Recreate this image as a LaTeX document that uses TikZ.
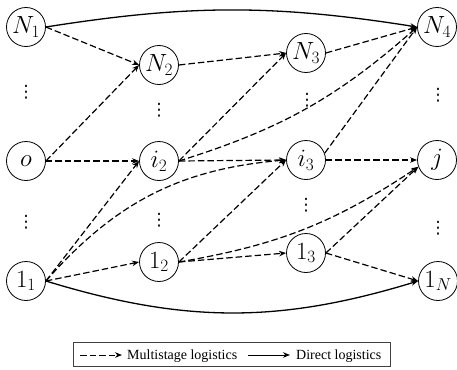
\documentclass[tikz,border=0pt]{standalone}
\usepackage{fontspec}
\newfontfamily\legfont{Liberation Serif}
\newfontfamily\dotfont{DejaVu Sans}
\usetikzlibrary{arrows.meta}
\tikzset{
  nd/.style={circle, draw, line width=0.8pt, minimum size=39pt, inner sep=0pt, font=\fontsize{24.5}{26}\selectfont},
  ml/.style={line width=1.2pt, dash pattern=on 6.5pt off 3pt, -{Stealth[length=7pt,width=5.5pt]}},
  dl/.style={line width=1.3pt, -{Stealth[length=7pt,width=5.5pt]}},
  dt/.style={font=\dotfont\fontsize{17}{19}\selectfont, inner sep=0pt},
  lg/.style={font=\legfont\fontsize{14}{16}\selectfont, inner sep=0pt, anchor=base west}
}
\begin{document}
\begin{tikzpicture}[x=1pt,y=-1pt]
\useasboundingbox (0,0) rectangle (457,369);
% nodes
\node[nd] (N1) at (26,27) {$N_1$};
\node[nd] (o)  at (26,161) {$o$};
\node[nd] (a1) at (26,281) {$1_1$};
\node[nd] (N2) at (159,65) {$N_2$};
\node[nd] (i2) at (159,161) {$i_2$};
\node[nd] (a2) at (159,262) {$1_2$};
\node[nd] (N3) at (306,53) {$N_3$};
\node[nd] (i3) at (306,160) {$i_3$};
\node[nd] (a3) at (306,253) {$1_3$};
\node[nd] (N4) at (437,27) {$N_4$};
\node[nd] (j)  at (437,160) {$j$};
\node[nd] (aN) at (438,281) {$1_N$};
% dots
\node[dt] (d1) at (26,92) {⋮};
\node[dt] (d2) at (26,222) {⋮};
\node[dt] (d3) at (159,110) {⋮};
\node[dt] (d4) at (159,220) {⋮};
\node[dt] (d5) at (307,100) {⋮};
\node[dt] (d6) at (306,205) {⋮};
\node[dt] (d7) at (438,95) {⋮};
\node[dt] (d8) at (438,228) {⋮};
% direct
\draw[dl] (N1.east) to[bend left=9] (N4.west);
\draw[dl] (a1.east) to[bend right=17] (aN.west);
% multistage
\draw[ml] (N1.east) -- (N2.west);
\draw[ml] (o.east) -- (N2.west);
\draw[ml] (o.east) -- (i2.west);
\draw[ml] (a1.east) -- (i2.west);
\draw[ml] (a1.east) to[bend left=22] (i3.west);
\draw[ml] (a1.east) -- (a2.west);
\draw[ml] (N2.east) -- (N3.west);
\draw[ml] (i2.east) -- (N3.west);
\draw[ml] (i2.east) to[bend right=12] (N4.west);
\draw[ml] (i2.east) -- (i3.west);
\draw[ml] (a2.east) -- (i3.west);
\draw[ml] (a2.east) -- (a3.west);
\draw[ml] (a2.east) to[bend right=12] (j.200);
\draw[ml] (N3.east) -- (N4.west);
\draw[ml] (i3.20) -- (N4.west);
\draw[ml] (i3.east) -- (j.west);
\draw[ml] (a3.east) -- (j.200);
\draw[ml] (a3.east) -- (aN.west);
% legend
\node[draw=black!75, line width=0.8pt, minimum width=317pt, minimum height=24pt, inner sep=0pt] (box) at (231.5,354) {};
\coordinate (m1) at (80,355);
\coordinate (m2) at (122,355);
\coordinate (s1) at (248,355);
\coordinate (s2) at (290,355);
\draw[ml, line width=1pt] (m1) -- (m2);
\node[lg] (mt) at (127,359) {Multistage logistics};
\draw[dl, line width=1pt] (s1) -- (s2);
\node[lg] (dtx) at (296,359) {Direct logistics};
\end{tikzpicture}
\end{document}
